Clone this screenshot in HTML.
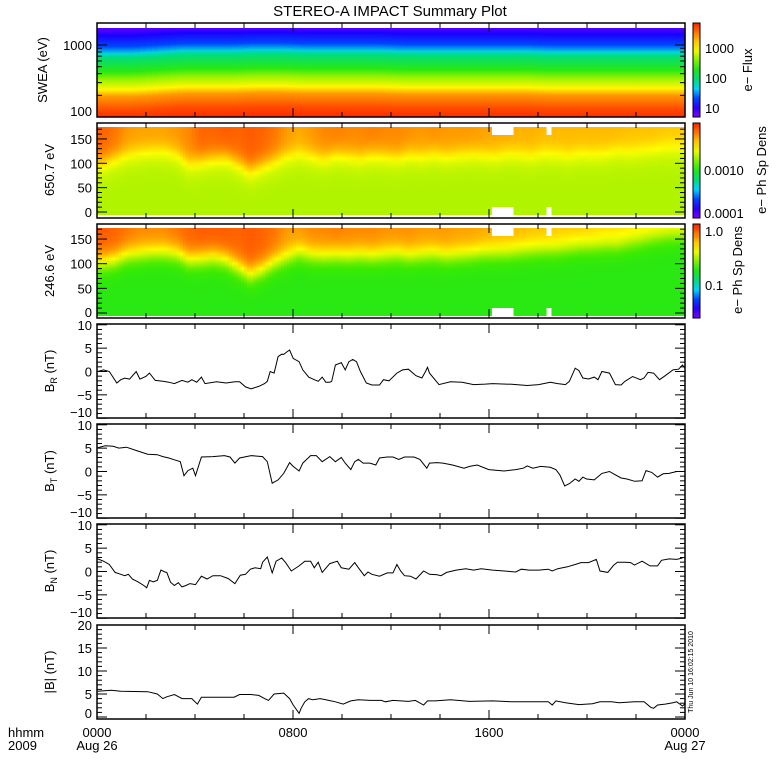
<!DOCTYPE html>
<html><head><meta charset="utf-8"><style>
html,body{margin:0;padding:0;background:#fff;}
svg{display:block;font-family:"Liberation Sans",sans-serif;}
</style></head><body>
<svg id="chart" width="780" height="780" viewBox="0 0 780 780" xmlns="http://www.w3.org/2000/svg">
<defs id="defs"></defs>
<text x="390" y="16" text-anchor="middle" font-size="15">STEREO-A IMPACT Summary Plot</text>
<g id="layer"></g>
<g font-size="13">
<text x="8" y="737">hhmm</text><text x="8" y="750">2009</text>
<text x="97" y="737" text-anchor="middle">0000</text><text x="97" y="750" text-anchor="middle">Aug 26</text>
<text x="293" y="737" text-anchor="middle">0800</text>
<text x="489" y="737" text-anchor="middle">1600</text>
<text x="685" y="737" text-anchor="middle">0000</text><text x="685" y="750" text-anchor="middle">Aug 27</text>
</g>
<g font-size="13">
<text transform="translate(47,70) rotate(-90)" text-anchor="middle">SWEA (eV)</text>
<text transform="translate(54,170) rotate(-90)" text-anchor="middle">650.7 eV</text>
<text transform="translate(54,271) rotate(-90)" text-anchor="middle">246.6 eV</text>
<text transform="translate(54,371) rotate(-90)" text-anchor="middle">B<tspan font-size="9" dy="3">R</tspan><tspan dy="-3"> (nT)</tspan></text>
<text transform="translate(54,471) rotate(-90)" text-anchor="middle">B<tspan font-size="9" dy="3">T</tspan><tspan dy="-3"> (nT)</tspan></text>
<text transform="translate(54,571) rotate(-90)" text-anchor="middle">B<tspan font-size="9" dy="3">N</tspan><tspan dy="-3"> (nT)</tspan></text>
<text transform="translate(54,672) rotate(-90)" text-anchor="middle">|B| (nT)</text>
</g>
<g font-size="13">
<text x="705" y="53">1000</text><text x="705" y="83">100</text><text x="705" y="113">10</text>
<text transform="translate(752,70) rotate(-90)" text-anchor="middle">e− Flux</text>
<text x="704" y="175">0.0010</text><text x="704" y="218">0.0001</text>
<text transform="translate(766,170) rotate(-90)" text-anchor="middle">e− Ph Sp Dens</text>
<text x="705" y="236">1.0</text><text x="705" y="290">0.1</text>
<text transform="translate(742,270) rotate(-90)" text-anchor="middle">e− Ph Sp Dens</text>
</g>
<text transform="translate(693,672) rotate(-90)" text-anchor="middle" font-size="7">Thu Jun 10 16:02:15 2010</text>
</svg>
<script>
const brHours=[0.03,0.27,0.5,0.81,0.97,1.13,1.33,1.6,1.75,1.99,2.14,2.38,2.69,2.93,3.16,3.47,3.71,3.87,4.07,4.26,4.41,4.88,5.27,5.63,5.82,6.06,6.29,6.6,6.84,6.95,7.07,7.23,7.39,7.54,7.62,7.75,7.86,8.01,8.25,8.4,8.64,8.87,9.03,9.19,9.34,9.5,9.58,9.73,9.97,10.13,10.28,10.44,10.59,10.75,10.99,11.22,11.53,11.69,11.92,12.24,12.47,12.71,13.02,13.26,13.41,13.49,13.57,13.96,14.43,14.9,15.37,15.84,16.15,16.93,17.56,18.03,18.5,18.81,18.97,19.12,19.28,19.52,19.67,19.83,20.06,20.3,20.45,20.61,20.92,21.16,21.39,21.55,21.86,22.18,22.33,22.49,22.72,22.96,23.19,23.51,23.74,23.9,24];
const brValues=[0,0.35,0,-2.46,-1.76,-1.41,-1.62,0,-1.62,-1.06,-0.35,-1.9,-2.1,-2.3,-2.6,-1.9,-2.3,-1.76,-2.3,-1.2,-2.6,-2.2,-2.46,-2.2,-2.2,-3.3,-3.7,-3.2,-2.6,-2.1,0,-0.35,3.2,3.7,3.66,4.2,4.6,2.8,2.1,0.35,-1.2,-1.76,-2.1,-1.2,-2.3,-2.3,-2.1,1.4,1.9,0.35,2.1,2.6,2.1,0,-2.46,-2.9,-2.9,-1.76,-2.0,-0.35,0.35,0.5,-0.9,-1.4,0,0.9,-0.35,-2.8,-2.2,-2.3,-2.8,-2.7,-2.6,-2.75,-3.0,-2.8,-2.3,-2.6,-2.7,-2.8,-2.1,0.7,0.2,-1.4,-1.6,-1.2,-1.76,0,-0.35,-2.8,-2.9,-2.1,-1.06,-1.76,-1.4,-0.2,-0.35,-1.76,-0.9,0.35,0.5,1.4,0.7,0.2,1.06];
const btHours=[0.03,0.34,0.66,0.89,1.2,1.6,2.07,2.46,2.69,2.93,3.16,3.4,3.55,3.71,3.91,4.02,4.26,4.73,5.2,5.43,5.63,5.82,6.29,6.76,6.95,7.15,7.39,7.62,7.86,8.01,8.25,8.4,8.56,8.72,8.95,9.19,9.5,9.73,9.97,10.13,10.36,10.52,10.67,10.86,11.14,11.38,11.53,11.85,12.08,12.32,12.55,12.94,13.18,13.46,13.57,13.88,14.12,14.51,14.98,15.21,15.52,15.99,16.62,17.09,17.4,17.56,17.79,18.11,18.5,18.73,18.89,19.09,19.28,19.52,19.67,19.83,19.98,20.3,20.61,20.92,21.08,21.39,21.63,21.95,22.25,22.41,22.64,22.88,23.11,23.35,23.66,23.97];
const btValues=[5.1,5.5,5.4,5.0,5.2,4.5,3.7,3.6,3.2,2.9,2.5,2.1,-0.9,0.2,0.7,-0.9,3.1,3.2,3.4,3.1,1.8,2.9,3.4,3.2,2.1,-2.5,-1.8,-0.4,1.9,1.1,0.1,1.8,2.6,3.4,3.4,2.1,3.2,2.1,3.0,1.8,0.4,2.1,2.6,1.8,1.8,1.4,2.9,3.1,3.1,2.6,3.1,3.1,2.6,0.7,1.8,1.9,1.8,1.4,0.7,1.1,1.4,0.4,0.1,0.4,0.7,1.2,0.7,1.1,0.9,0.4,-0.7,-3.1,-2.6,-1.6,-2.1,-1.2,-1.6,-1.8,-0.4,0,-0.5,-1.4,-1.6,-2.1,-2.0,0.2,-0.2,-1.2,-0.5,-0.4,0,0];
const bnHours=[0.03,0.27,0.5,0.74,0.97,1.13,1.28,1.44,1.67,1.91,2.03,2.14,2.3,2.46,2.61,2.77,2.85,3.0,3.16,3.32,3.47,3.63,3.79,4.02,4.26,4.49,4.73,5.04,5.35,5.63,5.85,6.06,6.26,6.45,6.68,6.76,6.95,7.15,7.31,7.54,7.7,7.93,8.25,8.48,8.72,8.87,9.03,9.19,9.5,9.81,9.97,10.28,10.52,10.67,10.91,11.06,11.22,11.53,11.85,12.08,12.24,12.39,12.55,12.79,13.02,13.33,13.57,13.88,14.04,14.27,14.66,15.05,15.37,15.68,16.15,16.62,17.09,17.32,17.64,18.03,18.42,18.58,18.81,19.2,19.52,19.75,20.06,20.38,20.53,20.85,21.08,21.24,21.55,21.78,21.94,22.25,22.57,22.88,23.04,23.35,23.66,23.9];
const bnValues=[2.7,2.2,1.5,-0.2,-0.6,-0.9,-0.6,-1.6,-2.2,-3.0,-3.5,-1.9,-2.2,-1.9,0.3,-0.1,-0.2,-2.3,-3.0,-2.4,-3.3,-3.0,-2.6,-2.8,-1.0,-1.6,-0.9,-0.9,-1.5,-2.6,-0.8,-0.6,0.5,0.8,0.6,2.0,3.1,-0.3,2.2,2.9,1.9,0.1,1.2,2.2,2.2,0.8,2.0,-0.2,1.7,2.2,0.8,0.5,1.9,0.8,-0.9,-0.1,-0.6,-1.0,-0.3,-0.3,1.5,0.1,-0.9,-1.0,-1.6,0.1,-0.6,-0.7,-0.9,-0.2,0.3,0.6,0.3,0.6,0.3,0.1,-0.1,0.5,0.3,0.3,0.5,0.1,0.6,1.0,1.5,1.9,1.9,2.6,0.1,-0.2,1.3,2.0,2.0,1.9,1.4,2.2,1.2,1.2,2.4,2.7,2.6,2.9];
const bmagHours=[0.03,0.58,0.97,2.07,2.46,2.69,2.85,3.16,3.47,3.87,4.1,4.26,4.57,5.2,5.59,5.82,6.29,6.6,6.84,7.0,7.23,7.62,7.86,8.01,8.25,8.33,8.48,8.64,8.8,9.11,9.34,9.73,10.05,10.36,10.67,11.14,11.61,11.77,12.08,12.71,12.99,13.33,13.49,13.8,14.43,15.21,16.15,16.93,17.71,18.42,18.58,18.73,19.12,19.67,20.22,20.53,21.0,21.31,21.94,22.33,22.6,22.72,22.88,23.19,23.51,23.66,23.9,24.0];
const bmagValues=[5.6,5.8,5.6,5.5,5.0,4.0,4.4,4.9,4.0,4.0,2.8,4.3,4.3,4.3,4.3,4.9,4.9,4.7,4.0,3.6,5.0,5.2,4.0,2.6,0.8,1.9,3.3,4.0,3.75,4.0,3.75,3.3,2.8,3.5,3.75,3.6,3.6,3.3,3.6,3.4,3.6,2.6,3.5,3.5,3.75,3.4,3.5,3.3,3.3,3.3,2.6,3.5,3.1,2.7,2.9,3.3,3.3,3.1,3.3,3.3,2.1,1.9,2.6,2.8,3.1,3.3,2.4,2.9];
const pa650Bound=[100,110,118,122,125,125,118,100,105,110,112,100,85,95,105,115,120,115,110,118,115,112,118,115,112,118,115,120,115,118,120,118,115,120,118,115,120,118,115,120,118,120,125,122,125,128,130,130];
const pa650High=[0.92,0.9,0.86,0.85,0.85,0.85,0.86,0.88,0.92,0.92,0.93,0.92,0.93,0.92,0.9,0.86,0.84,0.86,0.88,0.89,0.88,0.88,0.89,0.88,0.88,0.87,0.86,0.87,0.86,0.86,0.86,0.85,0.84,0.84,0.83,0.83,0.82,0.82,0.82,0.82,0.82,0.82,0.82,0.81,0.81,0.81,0.8,0.8];
const pa246Bound=[105,110,120,122,125,125,122,110,112,115,110,95,80,90,105,115,125,120,118,120,118,120,118,120,122,118,120,122,118,120,122,125,125,125,128,130,132,132,135,138,138,140,140,145,150,155,158,160];
const pa246High=[0.93,0.92,0.9,0.88,0.88,0.88,0.9,0.92,0.93,0.93,0.93,0.92,0.93,0.92,0.9,0.86,0.86,0.88,0.88,0.89,0.88,0.88,0.88,0.87,0.87,0.87,0.86,0.86,0.86,0.85,0.85,0.84,0.83,0.82,0.82,0.81,0.81,0.8,0.8,0.8,0.79,0.78,0.78,0.77,0.77,0.76,0.75,0.75];
const gapStart=[16.12,18.35];
const gapEnd=[17.0,18.55];
const sweaShift=[-0.02,-0.02,0.0,0.02,0.02,0.02,0.03,0.03,0.02,0.02,0.02,0.02,0.01,0.01,0.01,0.01,0.01,0.01,0.0,0.0,0.0,0.0,0.0,0.0];
const sweaLogE=[2.0,2.11,2.3,2.4,2.54,2.65,2.85,2.9,3.0,3.15,3.24];
const sweaLevel=[0.98,0.95,0.86,0.74,0.62,0.52,0.4,0.33,0.2,0.12,0.05];

const layer=document.getElementById('layer');
const defs=document.getElementById('defs');
const NS='http://www.w3.org/2000/svg';
const X0=97,X1=685;
const xs=h=>X0+h*(X1-X0)/24;
function mk(tag,attrs,parent){const e=document.createElementNS(NS,tag);for(const k in attrs)e.setAttribute(k,attrs[k]);(parent||layer).appendChild(e);return e;}
const cstops=[[0,[128,0,255]],[0.15,[0,0,255]],[0.3,[0,210,255]],[0.45,[0,225,60]],[0.55,[60,235,0]],[0.65,[190,245,0]],[0.73,[255,255,0]],[0.85,[255,160,0]],[1,[255,30,0]]];
function cmap(t){t=Math.max(0,Math.min(1,t));for(let i=1;i<cstops.length;i++){if(t<=cstops[i][0]){const a=cstops[i-1],b=cstops[i];const f=(t-a[0])/(b[0]-a[0]);return 'rgb('+a[1].map((v,j)=>Math.round(v+(b[1][j]-v)*f)).join(',')+')';}}return 'rgb(255,30,0)';}
let gid=0;
function vgrad(stops){const id='g'+(gid++);const g=mk('linearGradient',{id:id,x1:0,y1:0,x2:0,y2:1},defs);stops.forEach(s=>mk('stop',{offset:s[0],'stop-color':s[1]},g));return id;}
function interp(arr,pos){const i=Math.max(0,Math.min(arr.length-1,Math.floor(pos)));const j=Math.min(arr.length-1,i+1);const f=Math.max(0,Math.min(1,pos-i));return arr[i]+(arr[j]-arr[i])*f;}

(function(){
  const yTop=28,yBot=117,dec=72;
  const ey=le=>117-(le-2)*dec;
  const g=mk('g',{});
  
  
  const sub=4,n=sweaShift.length*sub;
  for(let c=0;c<n;c++){
    const sh=interp(sweaShift,(c+0.5)/sub-0.5);
    const st=[];
    for(let k=sweaLogE.length-1;k>=0;k--){const y=ey(sweaLogE[k]+sh);st.push([Math.max(0,Math.min(1,(y-yTop)/(yBot-yTop))),cmap(sweaLevel[k])]);}
    const id=vgrad(st);
    const h0=c/sub,h1=(c+1)/sub;
    const r=mk('rect',{x:xs(h0),y:yTop,width:xs(h1)-xs(h0)+0.6,height:yBot-yTop,fill:'url(#'+id+')'},g);
    
    
  }
})();

function paPanel(name,bound,high,low,yZero,pxDeg,yTop,yBot){
  const g=mk('g',{});
  
  
  const paY=p=>yZero-p*pxDeg;
  const sub=4,n=bound.length*sub;
  for(let c=0;c<n;c++){
    const pos=(c+0.5)/sub-0.5;
    const b=interp(bound,pos),hi=interp(high,pos);
    const st=[];
    for(let p=180;p>=-10;p-=10){
      const y=paY(p);const off=(y-yTop)/(yBot-yTop);
      if(off<-0.1||off>1.1)continue;
      const s=1/(1+Math.exp(-(p-b)/12));
      st.push([Math.max(0,Math.min(1,off)),cmap(low+(hi-low)*s)]);
    }
    const id=vgrad(st);
    const h0=c*0.5/sub,h1=(c+1)*0.5/sub;
    const r=mk('rect',{x:xs(h0),y:yTop,width:xs(h1)-xs(h0)+0.6,height:yBot-yTop,fill:'url(#'+id+')'},g);
    
    
  }
  for(let k=0;k<gapStart.length;k++){
    const a=mk('rect',{x:xs(gapStart[k]),y:yTop,width:xs(gapEnd[k])-xs(gapStart[k]),height:8,fill:'#fff'},g);
    
    
    const b=mk('rect',{x:xs(gapStart[k]),y:yBot-8,width:xs(gapEnd[k])-xs(gapStart[k]),height:8,fill:'#fff'},g);
    
    
  }
}
paPanel('pitch-angle-650eV',pa650Bound,pa650High,0.64,212,0.487,127,215);
paPanel('pitch-angle-246eV',pa246Bound,pa246High,0.52,313,0.493,228,316);

function linePanel(name,hours,vals,yZero,pxU){
  let d='';
  for(let i=0;i<hours.length;i++){d+=(i?'L':'M')+xs(hours[i]).toFixed(1)+' '+(yZero-vals[i]*pxU).toFixed(1);}
  const p=mk('path',{d:d,fill:'none',stroke:'#000','stroke-width':1});
  
  
}
linePanel('br-line',brHours,brValues,371.5,4.67);
linePanel('bt-line',btHours,btValues,471.5,4.67);
linePanel('bn-line',bnHours,bnValues,571.5,4.67);
linePanel('bmag-line',bmagHours,bmagValues,717,4.6);

function frame(name,y0,y1,yticks){
  const g=mk('g',{});
  
  
  mk('rect',{x:X0,y:y0,width:X1-X0,height:y1-y0,fill:'none',stroke:'#000','stroke-width':1.5},g);
  for(let h=0;h<=24;h+=2){const x=xs(h);const L=(h%8===0)?9:5;
    mk('line',{x1:x,y1:y1,x2:x,y2:y1-L,stroke:'#000'},g);mk('line',{x1:x,y1:y0,x2:x,y2:y0+L,stroke:'#000'},g);}
  yticks.forEach(t=>{const L=t[1]?10:5;
    mk('line',{x1:X0,y1:t[0],x2:X0+L,y2:t[0],stroke:'#000'},g);mk('line',{x1:X1,y1:t[0],x2:X1-L,y2:t[0],stroke:'#000'},g);
    if(t[2]!==undefined){const yy=Math.max(y0+5,Math.min(y1-1,t[0]+5));const tx=mk('text',{x:92,y:yy,'text-anchor':'end','font-size':13},g);tx.textContent=t[2];}});
}
(function(){const t=[];for(let e=100;e<=1000;e+=(e<1000?100:1000)){const y=117-Math.log10(e/100)*72;t.push([y,e===100||e===1000,e===100?'100':(e===1000?'1000':undefined)]);}frame('swea',23,117,t);})();
function paTicks(yZero,px){const t=[];for(let p=0;p<=170;p+=10){t.push([yZero-p*px,p%50===0,p%50===0?String(p):undefined]);}return t;}
frame('pa650',123,218,paTicks(212,0.487));
frame('pa246',224,318,paTicks(313,0.493));
function bTicks(yZero,px,lo,hi){const t=[];for(let v=lo;v<=hi;v++){t.push([yZero-v*px,v%5===0,v%5===0?(v<0?'−'+(-v):String(v)):undefined]);}return t;}
frame('br',324,418,bTicks(371.5,4.67,-10,10));
frame('bt',424,518,bTicks(471.5,4.67,-10,10));
frame('bn',524,618,bTicks(571.5,4.67,-10,10));
frame('bmag',625,719,bTicks(717,4.6,0,20));

function cbar(name,y0,y1){const st=[];for(let i=0;i<=10;i++)st.push([i/10,cmap(1-i/10)]);const id=vgrad(st);
  const r=mk('rect',{x:693,y:y0,width:7,height:y1-y0,fill:'url(#'+id+')',stroke:'#000','stroke-width':1});
  
  }
cbar('swea-colorbar',23,117);cbar('pa650-colorbar',123,218);cbar('pa246-colorbar',224,318);
</script>
</body></html>
